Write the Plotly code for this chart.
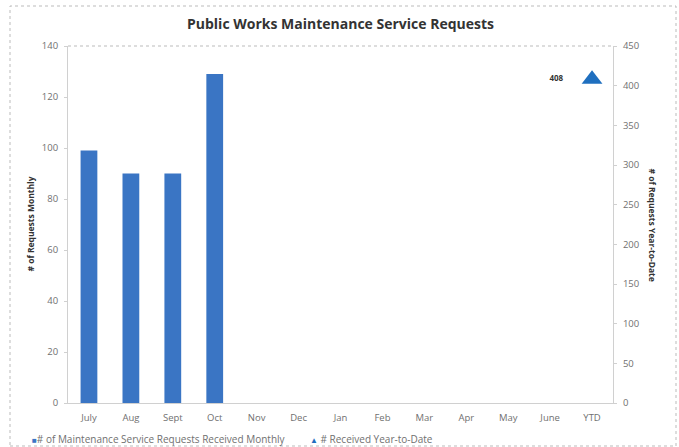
import plotly.graph_objects as go

# Monthly maintenance service requests and the year-to-date total
months = ["July", "Aug", "Sept", "Oct", "Nov", "Dec", "Jan", "Feb", "Mar", "Apr", "May", "June", "YTD"]
monthly_requests = [99, 90, 90, 129]
ytd_category = ["YTD"]
ytd_total = [408]

bar_name = "# of Maintenance Service Requests Received Monthly"
ytd_name = "# Received Year-to-Date"

bar_color = "#3A75C4"
ytd_color = "#1F6FBF"
txt = "#707070"
font_family = "Open Sans, Lato, sans-serif"

fig = go.Figure()

fig.add_trace(go.Bar(
    x=months[:len(monthly_requests)],
    y=monthly_requests,
    name=bar_name,
    marker=dict(color=bar_color, line=dict(width=0)),
    width=0.4,
    yaxis="y",
))

fig.add_trace(go.Scatter(
    x=ytd_category,
    y=ytd_total,
    name=ytd_name,
    mode="markers+text",
    marker=dict(symbol="triangle-up", size=18, color=ytd_color),
    text=[f"<b>{v}</b>" + "        " for v in ytd_total],
    textposition="middle left",
    textfont=dict(size=8, color="#333333", family=font_family),
    yaxis="y2",
))

# plot area: 68..613 px horizontally, 46..403 px vertically
pw, ph = 679 - 68 - 66, 447 - 46 - 44

def px_x(x):
    return (x - 68) / pw

def px_y(y):
    return (403 - y) / ph

legend_y = px_y(439)

fig.update_layout(
    width=679,
    height=447,
    margin=dict(l=68, r=66, t=46, b=44),
    paper_bgcolor="white",
    plot_bgcolor="white",
    font=dict(family=font_family, color=txt, size=10),
    showlegend=False,
    bargap=0.6,
    xaxis=dict(
        type="category",
        categoryorder="array",
        categoryarray=months,
        range=[-0.5, len(months) - 0.5],
        showgrid=False,
        showline=True, linecolor="#D0D0D0", linewidth=1,
        ticks="", tickfont=dict(size=9.5, color=txt),
        ticklabelstandoff=6,
        zeroline=False,
    ),
    yaxis=dict(
        range=[0, 140],
        tick0=0, dtick=20,
        showgrid=False,
        showline=True, linecolor="#D0D0D0", linewidth=1,
        ticks="outside", ticklen=3, tickcolor="#D0D0D0",
        tickfont=dict(size=9.5, color=txt),
        ticklabelstandoff=4,
        zeroline=False,
    ),
    yaxis2=dict(
        range=[0, 450],
        tick0=0, dtick=50,
        overlaying="y",
        side="right",
        showgrid=False,
        showline=True, linecolor="#D0D0D0", linewidth=1,
        ticks="outside", ticklen=3, tickcolor="#D0D0D0",
        tickfont=dict(size=9.5, color=txt),
        ticklabelstandoff=4,
        zeroline=False,
    ),
    annotations=[
        dict(text="<b>Public Works Maintenance Service Requests</b>",
             xref="paper", yref="paper", x=0.5, y=px_y(23), xanchor="center", yanchor="middle",
             showarrow=False, font=dict(size=14, color="#333333", family=font_family)),
        dict(text="<b># of Requests Monthly</b>",
             xref="paper", yref="paper", x=px_x(30), y=0.5, xanchor="center", yanchor="middle",
             textangle=-90, showarrow=False, font=dict(size=8.5, color="#333333")),
        dict(text="<b># of Requests Year-to-Date</b>",
             xref="paper", yref="paper", x=px_x(652), y=0.5, xanchor="center", yanchor="middle",
             textangle=90, showarrow=False, font=dict(size=8.5, color="#333333")),
        # legend entries
        dict(text=f"<span style='color:{bar_color};font-size:8px'>■</span>{bar_name}",
             xref="paper", yref="paper", x=px_x(30), y=legend_y, xanchor="left", yanchor="middle",
             showarrow=False, font=dict(size=10, color=txt)),
        dict(text=f"<span style='color:{ytd_color};font-size:8px'>▲</span> {ytd_name}",
             xref="paper", yref="paper", x=px_x(308), y=legend_y, xanchor="left", yanchor="middle",
             showarrow=False, font=dict(size=10, color=txt)),
    ],
    shapes=[
        # dashed top border of the plot area
        dict(type="line", xref="paper", yref="paper", x0=0, x1=1, y0=1, y1=1,
             line=dict(color="#BBBBBB", width=1, dash="dot")),
        # dotted chart frame
        dict(type="rect", xref="paper", yref="paper",
             x0=px_x(10), x1=px_x(676), y0=px_y(446), y1=px_y(6),
             line=dict(color="#BBBBBB", width=1, dash="dot")),
    ],
)

fig.write_html("out.html")
